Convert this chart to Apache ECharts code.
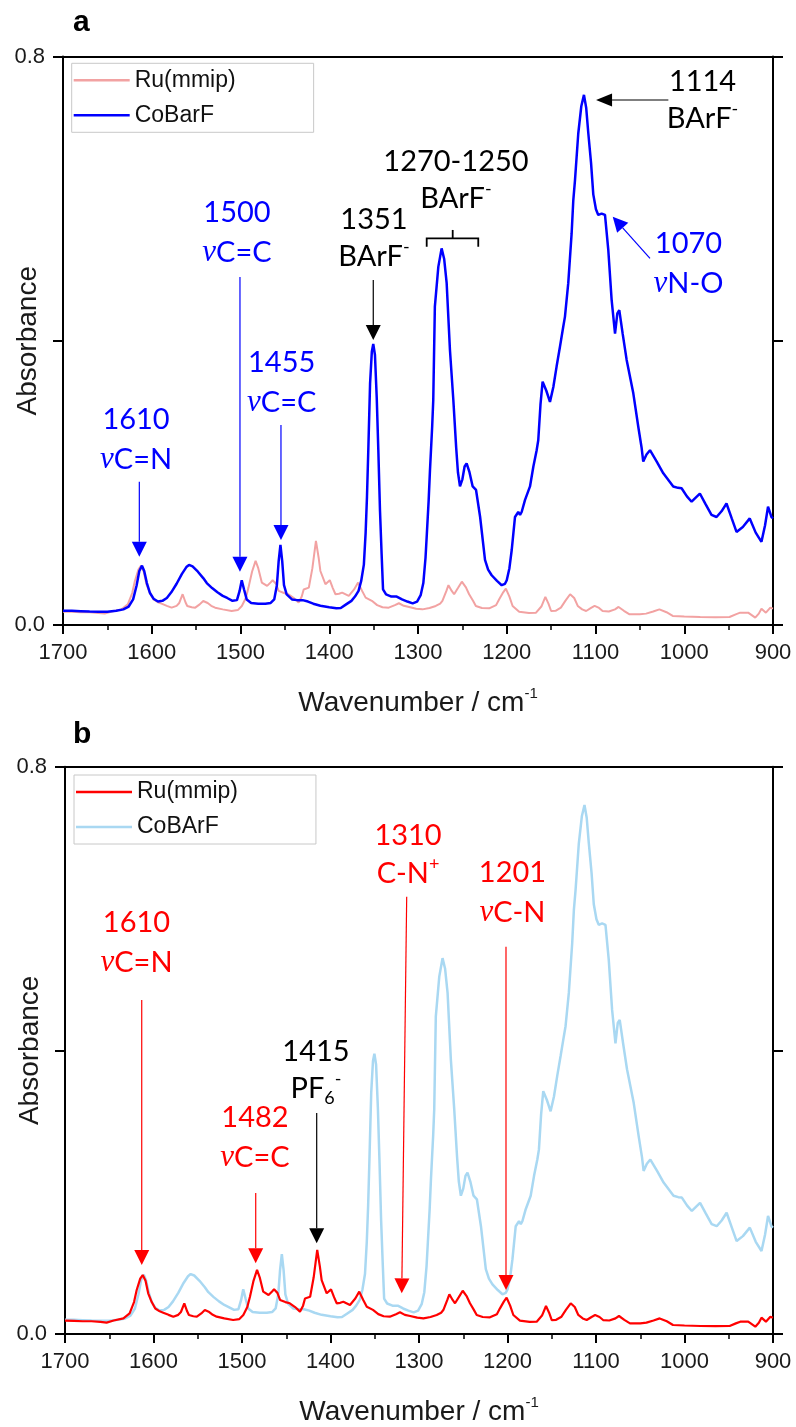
<!DOCTYPE html>
<html><head><meta charset="utf-8">
<script src="https://cdn.jsdelivr.net/npm/echarts@6/dist/echarts.min.js"></script>
<style>html,body{margin:0;padding:0;background:#fff}#c{width:796px;height:1427px}</style>
</head><body><div id="c"></div>
<script>
// ---------- data ----------
const xTicks = [1700, 1600, 1500, 1400, 1300, 1200, 1100, 1000, 900];
const xTickLabels = ['1700', '1600', '1500', '1400', '1300', '1200', '1100', '1000', '900'];
const yTicks = [0, 0.4, 0.8];
const yTickLabels = ['0.0', '', '0.8'];
const namesA = ['Ru(mmip)', 'CoBarF'];
const namesB = ['Ru(mmip) ', 'CoBArF'];

const ruSpectrum = [
[1700,0.0188],[1690,0.0185],[1680,0.018],[1670,0.018],[1660,0.017],[1653,0.016],[1645,0.019],[1634,0.022],[1627,0.029],[1622,0.045],[1619,0.062],[1615,0.078],[1612.2,0.0832],[1609,0.075],[1606,0.0574],[1602,0.045],[1598,0.036],[1593,0.032],[1589,0.030],[1583,0.027],[1577.6,0.0244],[1572,0.027],[1569,0.031],[1565.2,0.0433],[1562,0.032],[1560,0.0268],[1555,0.025],[1551,0.0244],[1546,0.029],[1542,0.0338],[1537,0.031],[1533,0.027],[1528.6,0.0244],[1520,0.022],[1510,0.0197],[1503,0.021],[1498.5,0.0268],[1494,0.038],[1491,0.0526],[1487,0.075],[1483,0.0903],[1480,0.080],[1476,0.0597],[1470,0.055],[1466,0.060],[1463.8,0.063],[1460,0.058],[1457,0.048],[1451,0.045],[1446,0.0433],[1440,0.038],[1434.5,0.0315],[1431,0.040],[1428.8,0.050],[1423,0.0526],[1419,0.080],[1415,0.1185],[1412,0.095],[1410,0.076],[1404.3,0.0574],[1399.4,0.063],[1396,0.052],[1393,0.0433],[1389,0.044],[1385.5,0.0456],[1378,0.041],[1372,0.050],[1367.5,0.0597],[1363,0.048],[1359,0.0385],[1352,0.034],[1346,0.028],[1340,0.025],[1333,0.0244],[1326,0.028],[1321.5,0.0306],[1316,0.027],[1310,0.0254],[1302,0.023],[1295,0.022],[1287,0.024],[1280,0.0268],[1275,0.030],[1272.5,0.0338],[1268,0.048],[1265.7,0.056],[1262,0.048],[1259.3,0.0433],[1255,0.052],[1250.6,0.061],[1246,0.053],[1242.4,0.0433],[1238,0.034],[1234.8,0.0268],[1228,0.024],[1219.8,0.0235],[1212,0.028],[1208.5,0.0362],[1204,0.046],[1201,0.0512],[1197,0.040],[1193.4,0.0268],[1186,0.0188],[1175,0.017],[1167,0.0174],[1161,0.026],[1156.5,0.0395],[1153,0.030],[1150,0.0197],[1145,0.020],[1139,0.0244],[1134,0.034],[1128.6,0.0433],[1124,0.038],[1120,0.0268],[1115,0.022],[1110.5,0.0197],[1105,0.024],[1101,0.0268],[1096,0.024],[1092,0.0197],[1085,0.019],[1078,0.022],[1074,0.0254],[1068,0.020],[1061.6,0.015],[1050,0.015],[1043,0.016],[1035,0.019],[1028,0.022],[1020,0.018],[1013,0.0127],[1000,0.012],[982,0.0113],[965,0.011],[949,0.0113],[942,0.015],[937,0.0174],[928,0.0174],[920,0.0103],[916,0.016],[913,0.023],[908,0.0174],[903,0.0244],[900,0.023]
];

const coSpectrum = [
[1700,0.020],[1690,0.0200],[1680,0.0195],[1670,0.0190],[1660,0.0188],[1650,0.0187],[1640,0.0200],[1632,0.0220],[1626,0.0260],[1621,0.0360],[1617,0.0560],[1614,0.0760],[1611,0.0835],[1608.5,0.0760],[1605.5,0.0590],[1602,0.0450],[1598,0.0370],[1593,0.0330],[1588,0.0340],[1583,0.0380],[1578,0.0460],[1572,0.0580],[1566,0.0720],[1561,0.0815],[1558,0.0845],[1554,0.0825],[1548,0.0750],[1542,0.0660],[1538,0.0590],[1532,0.0520],[1526,0.0460],[1520,0.0410],[1515,0.0380],[1509,0.0340],[1504,0.0350],[1501,0.0480],[1498.6,0.0630],[1496,0.0500],[1493,0.0360],[1488,0.0310],[1480,0.0300],[1472,0.0300],[1466,0.0310],[1462,0.0360],[1459,0.0560],[1457,0.0900],[1455,0.1126],[1453,0.0900],[1451,0.0560],[1448,0.0430],[1442,0.0360],[1436,0.0350],[1430,0.0350],[1424,0.0330],[1418,0.0300],[1410,0.0270],[1400,0.0250],[1392,0.0235],[1387,0.0240],[1381,0.0290],[1375,0.0340],[1371,0.0400],[1367,0.0480],[1364,0.0620],[1361,0.0850],[1359,0.1300],[1357.5,0.1800],[1356,0.2460],[1354,0.3400],[1352,0.3850],[1350.4,0.3954],[1348.5,0.3800],[1346.5,0.3200],[1344.7,0.2460],[1342.8,0.1600],[1341,0.1000],[1339.4,0.0500],[1336,0.0430],[1330,0.0400],[1324,0.0400],[1318,0.0360],[1312,0.0330],[1306,0.0305],[1301,0.0330],[1297,0.0420],[1294,0.0590],[1291.5,0.0950],[1290,0.1290],[1288,0.1750],[1286.5,0.2180],[1284,0.2800],[1282.8,0.3166],[1281,0.4480],[1277.1,0.5040],[1273.4,0.5300],[1270.5,0.5150],[1267.7,0.4810],[1264,0.3870],[1260.2,0.3170],[1257,0.2500],[1255,0.2150],[1252.7,0.1950],[1250,0.2050],[1247.5,0.2230],[1245.2,0.2275],[1242,0.2150],[1238.4,0.1950],[1234.6,0.1900],[1230,0.1520],[1224.5,0.0915],[1221,0.0780],[1217,0.0700],[1211,0.0620],[1205.7,0.0560],[1202,0.0580],[1200,0.0630],[1197,0.0800],[1194.4,0.1055],[1190.7,0.1520],[1187,0.1590],[1185,0.1550],[1183.2,0.1590],[1179.4,0.1760],[1173.8,0.1950],[1170,0.2230],[1166.3,0.2460],[1164.5,0.2600],[1162,0.3100],[1159.6,0.3424],[1155.5,0.3300],[1151.3,0.3140],[1147.5,0.3350],[1143.8,0.3640],[1140,0.3920],[1136.3,0.4200],[1134.4,0.4340],[1130.7,0.4810],[1126.9,0.5510],[1125,0.5980],[1123.1,0.6260],[1119.4,0.6920],[1116,0.7300],[1113,0.7460],[1110.5,0.7280],[1108.1,0.6920],[1105,0.6500],[1102.5,0.6060],[1099.5,0.5850],[1096.9,0.5770],[1093.1,0.5790],[1089.3,0.5770],[1085.6,0.5280],[1081.8,0.4570],[1078,0.4100],[1075.4,0.4386],[1073.2,0.4430],[1069.4,0.4100],[1064.9,0.3730],[1057.4,0.3260],[1051.8,0.2790],[1048,0.2490],[1046.2,0.2300],[1042.5,0.2400],[1038.6,0.2460],[1031,0.2300],[1023.6,0.2135],[1012.4,0.1950],[1007,0.1930],[1003,0.1924],[997,0.1810],[991.7,0.1735],[986.5,0.1800],[982.4,0.1850],[976,0.1700],[969.3,0.1550],[963.6,0.1520],[958,0.1600],[952.4,0.1710],[946.5,0.1500],[941.1,0.1310],[934,0.1380],[926.2,0.1500],[919.5,0.1300],[913,0.1170],[909,0.1400],[905.6,0.1665],[901.8,0.1520],[900,0.1500]
];

// annotation texts
const labelsA = ['1610\n{nu|ν}C=N', '1500\n{nu|ν}C=C', '1455\n{nu|ν}C=C', '1351\nBArF{supd|-}', '1270-1250\nBArF{supd|-}', '1114\nBArF{supd|-}', '1070\n{nu|ν}N-O'];
const labelsB = ['1610\n{nu|ν}C=N', '1482\n{nu|ν}C=C', '1415\nPF{sub|6}{sup|-}', '1310\nC-N{sup|+}', '1201\n{nu|ν}C-N'];

// ---------- layout / styles ----------
const BLUE = '#0000FF', PINK = '#F2A2A2', RED = '#FF0000', LBLUE = '#A9D8F2', BLACK = '#000000';
const AXIS_FONT = 'Liberation Sans, Arial, sans-serif';
const ANN_FONT = 'Lato, Carlito, sans-serif';

// annotation placement in data units [wavenumber, absorbance]
const layoutA = [
  {color: BLUE, lh: 40, at: [1617.7, 0.261], arrow: [[1614, 0.2017], [1614, 0.0961]]},
  {color: BLUE, lh: 40, at: [1504, 0.5524], arrow: [[1500.6, 0.4897], [1500.6, 0.075]]},
  {color: BLUE, lh: 40, at: [1453.6, 0.3406], arrow: [[1454.4, 0.2814], [1454.4, 0.1196]]},
  {color: BLACK, lh: 37, at: [1349.6, 0.544], arrow: [[1350.4, 0.4855], [1350.4, 0.401]]},
  {color: BLACK, lh: 37, at: [1257.2, 0.6255], bracket: [1290.2, 1232.1, 1260.9, 0.5442, 0.5324, 0.5559]},
  {color: BLACK, lh: 37, at: [979.4, 0.7392], arrow: [[1017.9, 0.7388], [1099.4, 0.7388]], head: [16, 6.5]},
  {color: BLUE, lh: 40, at: [995.2, 0.5087], arrow: [[1038.6, 0.516], [1080.6, 0.5746]]}
];
const layoutB = [
  {color: RED, lh: 40, at: [1619.2, 0.5514], arrow: [[1613.3, 0.471], [1613.3, 0.0973]]},
  {color: RED, lh: 40, at: [1485.3, 0.2764], arrow: [[1484.5, 0.1988], [1484.5, 0.0997]]},
  {color: BLACK, lh: 37, at: [1416.4, 0.3716], arrow: [[1415.6, 0.3117], [1415.6, 0.1279]]},
  {color: RED, lh: 38, at: [1312.4, 0.6755], arrow: [[1313.9, 0.6167], [1319.5, 0.0574]]},
  {color: RED, lh: 40, at: [1194.4, 0.6219], arrow: [[1201.7, 0.5462], [1201.7, 0.062]]}
];

function xAxes(grid) {
  return [{
    gridIndex: grid, type: 'value', min: 900, max: 1700, interval: 100, inverse: true, position: 'bottom',
    axisLine: {onZero: false, lineStyle: {color: '#000', width: 2}},
    axisTick: {length: 9, lineStyle: {color: '#000', width: 2}},
    minorTick: {show: true, splitNumber: 2, length: 5, lineStyle: {color: '#000', width: 1.5}},
    splitLine: {show: false}, minorSplitLine: {show: false},
    axisLabel: {fontSize: 22, fontFamily: AXIS_FONT, color: '#1a1a1a', margin: 17,
      formatter: v => { const i = xTicks.findIndex(t => Math.abs(t - v) < 1e-6); return i < 0 ? '' : xTickLabels[i]; }},
    name: 'Wavenumber / cm{sup|-1}', nameLocation: 'middle', nameGap: 61, nameMoveOverlap: false,
    nameTextStyle: {fontSize: 28, fontFamily: AXIS_FONT, color: '#1a1a1a', lineHeight: 34,
      rich: {sup: {fontSize: 15, fontFamily: AXIS_FONT, color: '#1a1a1a', verticalAlign: 'top', lineHeight: 16}}}
  }, {
    gridIndex: grid, type: 'value', min: 900, max: 1700, inverse: true, position: 'top',
    axisLine: {onZero: false, lineStyle: {color: '#000', width: 2}},
    axisTick: {show: false}, axisLabel: {show: false}, splitLine: {show: false}
  }];
}
function yAxes(grid) {
  return [{
    gridIndex: grid, type: 'value', min: 0, max: 0.8, interval: 0.4, position: 'left',
    axisLine: {show: true, onZero: false, lineStyle: {color: '#000', width: 2}},
    axisTick: {show: true, length: 10, lineStyle: {color: '#000', width: 2}},
    splitLine: {show: false},
    axisLabel: {fontSize: 22, fontFamily: AXIS_FONT, color: '#1a1a1a', margin: 18,
      formatter: v => { const i = yTicks.findIndex(t => Math.abs(t - v) < 1e-6); return i < 0 ? '' : yTickLabels[i]; }},
    name: 'Absorbance', nameLocation: 'middle', nameGap: 20, nameMoveOverlap: false,
    nameTextStyle: {fontSize: 28, fontFamily: AXIS_FONT, color: '#1a1a1a', lineHeight: 30}
  }, {
    gridIndex: grid, type: 'value', min: 0, max: 0.8, interval: 0.4, position: 'right',
    axisLine: {show: true, onZero: false, lineStyle: {color: '#000', width: 2}},
    axisTick: {show: true, length: 10, lineStyle: {color: '#000', width: 2}},
    splitLine: {show: false}, axisLabel: {show: false}
  }];
}
function legend(names, left, top) {
  return {
    data: names.map(n => ({name: n, icon: 'rect'})), orient: 'vertical', left: left, top: top,
    itemWidth: 56, itemHeight: 2.5, itemGap: 9,
    padding: [4, 78, 4, 2], borderColor: '#c8c8c8', borderWidth: 1, selectedMode: false,
    formatter: n => n.trim(),
    textStyle: {fontSize: 23, fontFamily: AXIS_FONT, color: '#111', lineHeight: 26}
  };
}
function line(name, data, color, width, xi, yi, z) {
  return {name, type: 'line', data, xAxisIndex: xi, yAxisIndex: yi, symbol: 'none', showSymbol: false,
    smooth: false, z, lineStyle: {color, width}, itemStyle: {color}, emphasis: {disabled: true}};
}

const chart = echarts.init(document.getElementById('c'), null, {renderer: 'canvas'});
chart.setOption({
  animation: false,
  backgroundColor: '#fff',
  grid: [
    {left: 63, right: 23, top: 56.5, height: 568.5, outerBoundsMode: 'none', containLabel: false},
    {left: 65, right: 23, top: 766.7, height: 567.3, outerBoundsMode: 'none', containLabel: false}
  ],
  xAxis: [...xAxes(0), ...xAxes(1)],
  yAxis: [...yAxes(0), ...yAxes(1)],
  legend: [legend(namesA, 71.7, 63.3), legend(namesB, 74, 775)],
  series: [
    line(namesA[0], ruSpectrum, PINK, 2, 0, 0, 2),
    line(namesA[1], coSpectrum, BLUE, 2.5, 0, 0, 3),
    line(namesB[1], coSpectrum, LBLUE, 2.5, 2, 2, 2),
    line(namesB[0], ruSpectrum, RED, 2.2, 2, 2, 3)
  ]
});

// ---------- annotations (placed through the chart's own scales) ----------
const g = [];
function P(si, p) { return chart.convertToPixel({seriesIndex: si}, p); }
function rich(color, lh) {
  return {
    nu: {fontFamily: 'Liberation Serif, DejaVu Serif, serif', fontStyle: 'italic', fontSize: 31, fill: color, lineHeight: lh},
    sup: {fontFamily: ANN_FONT, fontSize: 18, fill: color, verticalAlign: 'top', lineHeight: 24},
    supd: {fontFamily: ANN_FONT, fontSize: 18, fill: color, verticalAlign: 'top', lineHeight: 31},
    sub: {fontFamily: ANN_FONT, fontSize: 18, fill: color, verticalAlign: 'bottom', lineHeight: 22}
  };
}
function addArrow(si, from, to, color, head) {
  const p0 = P(si, from), p1 = P(si, to);
  const dx = p1[0] - p0[0], dy = p1[1] - p0[1], L = Math.hypot(dx, dy), ux = dx / L, uy = dy / L;
  const hl = head ? head[0] : 15, hw = head ? head[1] : 7.5;
  const bx = p1[0] - ux * hl, by = p1[1] - uy * hl;
  g.push({type: 'line', z: 50, shape: {x1: p0[0], y1: p0[1], x2: bx, y2: by}, style: {stroke: color, lineWidth: 1.2}});
  g.push({type: 'polygon', z: 50, shape: {points: [[p1[0], p1[1]], [bx - uy * hw, by + ux * hw], [bx + uy * hw, by - ux * hw]]}, style: {fill: color}});
}
function addAnnotations(si, labels, layout) {
  labels.forEach((txt, i) => {
    const L = layout[i];
    const p = P(si, L.at);
    g.push({type: 'text', z: 50, x: p[0], y: p[1], style: {
      text: txt, fill: L.color, fontSize: 29, fontFamily: ANN_FONT, align: 'center', verticalAlign: 'middle',
      lineHeight: L.lh, rich: rich(L.color, L.lh)}});
    if (L.arrow) addArrow(si, L.arrow[0], L.arrow[1], L.color, L.head);
    if (L.bracket) {
      const [x1, x2, xm, yh, ye, yt] = L.bracket;
      const a = P(si, [x1, ye]), b = P(si, [x1, yh]), c = P(si, [x2, yh]), d = P(si, [x2, ye]);
      const m1 = P(si, [xm, yh]), m2 = P(si, [xm, yt]);
      g.push({type: 'polyline', z: 50, shape: {points: [a, b, c, d]}, style: {stroke: L.color, lineWidth: 1.8, fill: null}});
      g.push({type: 'line', z: 50, shape: {x1: m1[0], y1: m1[1], x2: m2[0], y2: m2[1]}, style: {stroke: L.color, lineWidth: 1.8}});
    }
  });
}
addAnnotations(1, labelsA, layoutA);
addAnnotations(3, labelsB, layoutB);
g.push({type: 'text', x: 73, y: 23, style: {text: 'a', fill: '#000', fontSize: 30, fontWeight: 'bold', fontFamily: AXIS_FONT, align: 'left', verticalAlign: 'middle'}});
g.push({type: 'text', x: 73, y: 735, style: {text: 'b', fill: '#000', fontSize: 30, fontWeight: 'bold', fontFamily: AXIS_FONT, align: 'left', verticalAlign: 'middle'}});
chart.setOption({graphic: {elements: g}});
</script>
</body></html>
